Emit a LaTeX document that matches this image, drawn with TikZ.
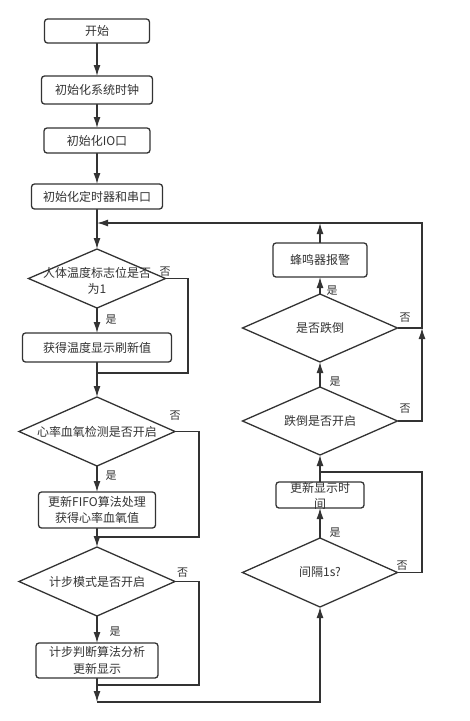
\documentclass[tikz,border=0pt]{standalone}
\usepackage{fontspec}
\setmainfont{Noto Sans CJK SC}
\usetikzlibrary{shapes.geometric}
\usetikzlibrary{arrows.meta}
\pgfdeclarelayer{edgelayer}
\pgfdeclarelayer{nodelayer}
\pgfsetlayers{edgelayer,nodelayer,main}
\definecolor{linegray}{HTML}{333333}
\tikzstyle{process_box}=[rectangle,rounded corners=3pt,draw=linegray,line width=1.3pt,fill=white,inner sep=0pt,outer sep=0pt,font=\fontsize{12}{16.5}\selectfont,text=linegray,align=center]
\tikzstyle{decision}=[diamond,draw=linegray,line width=1.3pt,fill=white,inner sep=0pt,outer sep=0pt]
\tikzstyle{node_text}=[inner sep=0pt,font=\fontsize{12}{16.5}\selectfont,text=linegray,align=center]
\tikzstyle{edge_label}=[inner sep=0pt,font=\fontsize{11}{13}\selectfont,text=linegray]
\tikzstyle{flow}=[-{Latex[length=11pt,width=7pt]},draw=linegray,line width=1.3pt]
\tikzstyle{plain_edge}=[draw=linegray,line width=1.3pt]

\begin{document}
\begin{tikzpicture}[x=1pt,y=-1pt]
	\useasboundingbox (0,0) rectangle (470,721);
	\begin{pgfonlayer}{nodelayer}
		\node [style=process_box, minimum width=105pt, minimum height=24pt] (0) at (97, 31) {开始};
		\node [style=process_box, minimum width=111pt, minimum height=28pt] (1) at (97, 90) {初始化系统时钟};
		\node [style=process_box, minimum width=106pt, minimum height=25pt] (2) at (97, 140.5) {初始化IO口};
		\node [style=process_box, minimum width=131pt, minimum height=25pt] (3) at (97, 196.5) {初始化定时器和串口};
		\node [style=decision, minimum width=137pt, minimum height=59pt] (4) at (97, 278.5) {};
		\node [style=node_text] (5) at (97, 281) {人体温度标志位是否\\为1};
		\node [style=process_box, minimum width=149pt, minimum height=29pt] (6) at (97, 347.5) {获得温度显示刷新值};
		\node [style=decision, minimum width=156pt, minimum height=69pt] (7) at (97, 431.5) {};
		\node [style=node_text] (8) at (97, 431.5) {心率血氧检测是否开启};
		\node [style=process_box, minimum width=117pt, minimum height=36pt] (9) at (97, 510) {更新FIFO算法处理\\获得心率血氧值};
		\node [style=decision, minimum width=156pt, minimum height=69pt] (10) at (97, 581.5) {};
		\node [style=node_text] (11) at (97, 581.5) {计步模式是否开启};
		\node [style=process_box, minimum width=122pt, minimum height=35pt] (12) at (97, 660.5) {计步判断算法分析\\更新显示};
		\node [style=decision, minimum width=155pt, minimum height=69pt] (13) at (320, 572.5) {};
		\node [style=node_text] (14) at (320, 572.5) {间隔1s?};
		\node [style=process_box, minimum width=88pt, minimum height=26pt] (15) at (320, 495) {};
		\node [style=node_text] (16) at (320, 496) {更新显示时\\间};
		\node [style=decision, minimum width=155pt, minimum height=68pt] (17) at (320, 421) {};
		\node [style=node_text] (18) at (320, 421) {跌倒是否开启};
		\node [style=decision, minimum width=155pt, minimum height=68pt] (19) at (320, 328) {};
		\node [style=node_text] (20) at (320, 328) {是否跌倒};
		\node [style=process_box, minimum width=94pt, minimum height=34pt] (21) at (320, 260) {蜂鸣器报警};
		\node [style=edge_label] (22) at (165, 272) {否};
		\node [style=edge_label] (23) at (111, 320) {是};
		\node [style=edge_label] (24) at (175, 416) {否};
		\node [style=edge_label] (25) at (111, 476) {是};
		\node [style=edge_label] (26) at (182.5, 573) {否};
		\node [style=edge_label] (27) at (115, 632) {是};
		\node [style=edge_label] (28) at (335, 533) {是};
		\node [style=edge_label] (29) at (402, 566) {否};
		\node [style=edge_label] (30) at (405, 409) {否};
		\node [style=edge_label] (31) at (335, 382) {是};
		\node [style=edge_label] (32) at (405, 318) {否};
		\node [style=edge_label] (33) at (332, 291) {是};
	\end{pgfonlayer}
	\begin{pgfonlayer}{edgelayer}
		\coordinate (j1) at (97, 373);
		\coordinate (c1) at (188, 373);
		\coordinate (j2) at (97, 537);
		\coordinate (c2) at (199, 537);
		\coordinate (j3) at (97, 685);
		\coordinate (c3) at (199, 685);
		\coordinate (j4) at (97, 702);
		\coordinate (j5) at (320, 472);
		\coordinate (c5) at (422, 472);
		\coordinate (j6) at (422, 328);
		\coordinate (j7) at (422, 223);
		\coordinate (j8) at (320, 223);
		\coordinate (j9) at (97, 223);
		\draw [style=flow] (0) to (1);
		\draw [style=flow] (1) to (2);
		\draw [style=flow] (2) to (3);
		\draw [style=flow] (3) to (4);
		\draw [style=flow] (4) to (6);
		\draw [style=plain_edge] (4.east) -| (c1) -- (j1);
		\draw [style=flow] (6) to (7);
		\draw [style=flow] (7) to (9);
		\draw [style=plain_edge] (7.east) -| (c2) -- (j2);
		\draw [style=flow] (9) to (10);
		\draw [style=flow] (10) to (12);
		\draw [style=plain_edge] (10.east) -| (c3) -- (j3);
		\draw [style=flow] (12) to (j4);
		\draw [style=flow] (j4) -| (13.south);
		\draw [style=flow] (13) to (15);
		\draw [style=plain_edge] (13.east) -| (c5) -- (j5);
		\draw [style=flow] (15) to (17);
		\draw [style=flow] (17) to (19);
		\draw [style=flow] (17.east) -| (j6);
		\draw [style=flow] (19.east) -- (j6) -- (j7) -- (j9);
		\draw [style=flow] (19) to (21);
		\draw [style=flow] (21) to (j8);
	\end{pgfonlayer}
\end{tikzpicture}
\end{document}
